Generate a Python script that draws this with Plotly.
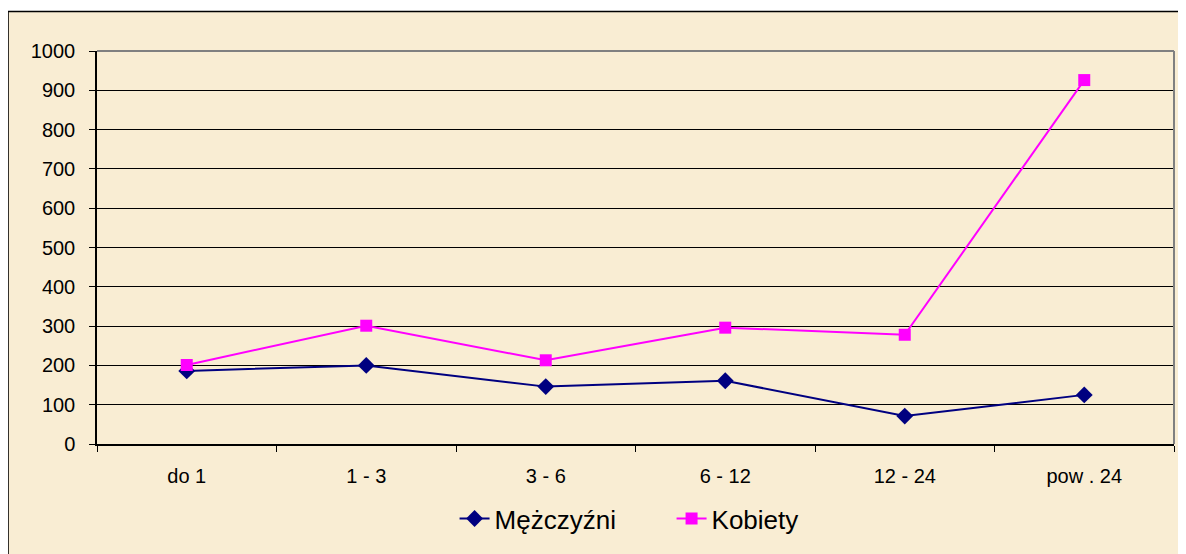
"""
Wykres liniowy: Mężczyźni / Kobiety wg przedziałów czasu
"""

import plotly.graph_objects as go

# dane
kategorie = ["do 1", "1 - 3", "3 - 6", "6 - 12", "12 - 24", "pow . 24"]
mezczyzni = [186, 200, 146, 161, 71, 125]
kobiety = [201, 301, 213, 296, 278, 926]
y_ticks = [0, 100, 200, 300, 400, 500, 600, 700, 800, 900, 1000]

FONT = "Liberation Sans, Arial, sans-serif"
BG = "#F9EDD3"

fig = go.Figure()

fig.add_trace(go.Scatter(
    x=kategorie,
    y=mezczyzni,
    mode='lines+markers',
    name='Mężczyźni',
    line=dict(color='#000080', width=2),
    marker=dict(symbol='diamond', size=13, color='#000080')
))

fig.add_trace(go.Scatter(
    x=kategorie,
    y=kobiety,
    mode='lines+markers',
    name='Kobiety',
    line=dict(color='#FF00FF', width=2),
    marker=dict(symbol='square', size=12, color='#FF00FF')
))

# tło i ramka całego wykresu (lewa i górna krawędź widoczna)
fig.add_shape(
    type='rect', xref='paper', yref='paper',
    x0=-0.0826, x1=1.2, y0=-0.5, y1=1.1005,
    fillcolor=BG,
    line=dict(color='black', width=1.5), layer='below'
)

fig.update_layout(
    width=1178,
    height=546,
    paper_bgcolor='white',
    plot_bgcolor='rgba(0,0,0,0)',
    font=dict(family=FONT, size=20, color='black'),
    margin=dict(l=89, r=12, t=43, b=105),
    showlegend=True,
    legend=dict(
        orientation='h',
        xanchor='left',
        x=0.332,
        yanchor='middle',
        y=-0.19,
        bgcolor='rgba(0,0,0,0)',
        font=dict(size=26),
        entrywidth=172
    ),
    xaxis=dict(
        type='category',
        range=[-0.5, 5.5],
        showgrid=False,
        showline=True,
        linecolor='black',
        linewidth=1.5,
        ticks='outside',
        tickson='boundaries',
        ticklen=6,
        tickcolor='black',
        ticklabelstandoff=13,
        automargin=False,
        zeroline=False
    ),
    yaxis=dict(
        range=[0, 1000],
        tickvals=y_ticks,
        showgrid=True,
        gridcolor='black',
        gridwidth=1,
        showline=True,
        linecolor='black',
        linewidth=1.5,
        ticks='outside',
        ticklen=6,
        tickcolor='black',
        ticklabelstandoff=10,
        automargin=False,
        zeroline=False
    )
)

# szara ramka obszaru wykresu (góra i prawa strona)
fig.add_shape(
    type='line', xref='paper', yref='paper',
    x0=0, x1=1, y0=1, y1=1,
    line=dict(color='#808080', width=2)
)
fig.add_shape(
    type='line', xref='paper', yref='paper',
    x0=1, x1=1, y0=0, y1=1,
    line=dict(color='#808080', width=2)
)

fig.write_html("out.html")
